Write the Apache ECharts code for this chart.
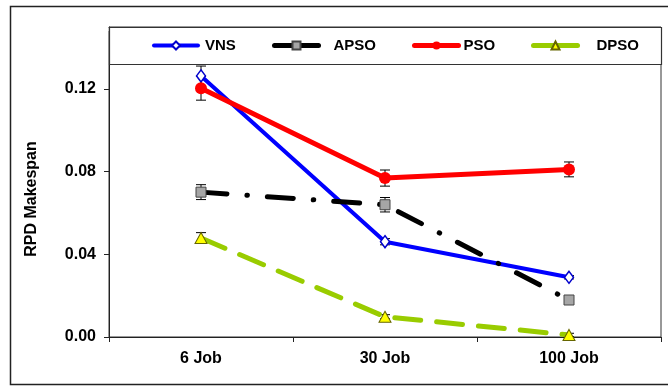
<!DOCTYPE html>
<html>
<head>
<meta charset="utf-8">
<script src="https://cdn.jsdelivr.net/npm/echarts@6/dist/echarts.min.js"></script>
<style>
  html, body { margin: 0; padding: 0; background: #fff; }
  #chart { width: 668px; height: 387px; }
</style>
</head>
<body>
<div id="chart"></div>
<script>
// Job sizes on the x axis
const categories = ['6 Job', '30 Job', '100 Job'];

// Mean RPD of makespan per algorithm
const vns  = [0.1263, 0.0461, 0.0289];
const apso = [0.0701, 0.0640, 0.0179];
const pso  = [0.1204, 0.0769, 0.0811];
const dpso = [0.0479, 0.0098, 0.0010];

// Half-widths of the error bars
const vnsErr  = [0.0048, 0.0015, 0.0008];
const apsoErr = [0.0036, 0.0035, 0.0010];
const psoErr  = [0.0058, 0.0039, 0.0036];
const dpsoErr = [0.0026, 0.0010, 0.0008];

// Y axis tick labels
const yTicks = [0, 0.04, 0.08, 0.12];

const FONT = '"Liberation Sans", Arial, sans-serif';

function errorData(values, errs) {
  return values.map((v, i) => [i, v, errs[i]]);
}

function renderErr(params, api) {
  const x = api.value(0), y = api.value(1), e = api.value(2);
  const hi = api.coord([x, y + e]);
  const lo = api.coord([x, y - e]);
  const w = 5;
  const st = { stroke: '#000', lineWidth: 1 };
  return {
    type: 'group',
    children: [
      { type: 'line', shape: { x1: hi[0], y1: hi[1], x2: lo[0], y2: lo[1] }, style: st },
      { type: 'line', shape: { x1: hi[0] - w, y1: hi[1], x2: hi[0] + w, y2: hi[1] }, style: st },
      { type: 'line', shape: { x1: lo[0] - w, y1: lo[1], x2: lo[0] + w, y2: lo[1] }, style: st }
    ]
  };
}

function errSeries(values, errs) {
  return {
    type: 'custom',
    renderItem: renderErr,
    data: errorData(values, errs),
    encode: { x: 0, y: 1 },
    z: 1,
    silent: true
  };
}

const legendText = { fontFamily: FONT, fontWeight: 'bold', fontSize: 15, color: '#000' };
function legendAt(name, left, gap, width) {
  return {
    data: [name],
    left: left,
    top: 38,
    itemWidth: 44,
    itemHeight: 10,
    itemGap: 0,
    padding: 0,
    z: 6,
    lineStyle: { type: 'solid', width: width, cap: 'round' },
    textStyle: Object.assign({ padding: [0, 0, 0, gap] }, legendText)
  };
}

const chart = echarts.init(document.getElementById('chart'));
chart.setOption({
  animation: false,
  backgroundColor: '#fff',
  graphic: [
    { type: 'rect', z: 0,
      shape: { x: 10.5, y: 6.5, width: 700, height: 378 },
      style: { fill: 'none', stroke: '#222', lineWidth: 1.5 } },
    // legend frame across the top of the plot
    { type: 'rect', z: 5,
      shape: { x: 109.5, y: 27.5, width: 552, height: 37 },
      style: { fill: '#fff', stroke: '#333', lineWidth: 1.2 } },
    // blank out the tick at the axis end
    { type: 'rect', z: 5,
      shape: { x: 100, y: 23, width: 8.5, height: 8 },
      style: { fill: '#fff', stroke: null } },
    { type: 'text', z: 5, x: 32, y: 199, rotation: Math.PI / 2,
      style: { text: 'RPD Makespan', fontFamily: FONT, fontWeight: 'bold', fontSize: 16,
               fill: '#000', align: 'center', verticalAlign: 'middle' } }
  ],
  legend: [
    legendAt('VNS', 152, 2, 4),
    legendAt('APSO', 272, 10, 5),
    legendAt('PSO', 412, 0, 5),
    legendAt('DPSO', 531, 14, 5)
  ],
  grid: {
    left: 109, right: 7, top: 27, bottom: 50,
    show: true, borderColor: '#333', borderWidth: 1, backgroundColor: 'transparent'
  },
  xAxis: {
    type: 'category',
    data: categories,
    boundaryGap: true,
    axisLine: { lineStyle: { color: '#222', width: 1 } },
    axisTick: { show: true, inside: false, length: 5, lineStyle: { color: '#222' } },
    axisLabel: { margin: 14, fontFamily: FONT, fontWeight: 'bold', fontSize: 16, color: '#000' },
    splitLine: { show: false }
  },
  yAxis: {
    type: 'value',
    min: 0, max: 0.15, interval: 0.04,
    axisLine: { show: true, lineStyle: { color: '#222', width: 1 } },
    axisTick: { show: true, inside: false, length: 5, lineStyle: { color: '#222' } },
    axisLabel: {
      margin: 13, fontFamily: FONT, fontWeight: 'bold', fontSize: 16, color: '#000',
      formatter: v => {
        const t = yTicks.find(k => Math.abs(k - v) < 1e-9);
        return t === undefined ? '' : t.toFixed(2);
      }
    },
    splitLine: { show: false }
  },
  series: [
    errSeries(vns, vnsErr),
    errSeries(apso, apsoErr),
    errSeries(pso, psoErr),
    errSeries(dpso, dpsoErr),
    {
      name: 'VNS', type: 'line', data: vns, z: 2,
      symbol: 'diamond', symbolSize: [9, 12],
      lineStyle: { color: '#0000ff', width: 4 },
      itemStyle: { color: '#fff', borderColor: '#0000cc', borderWidth: 1.5 },
      color: '#0000ff'
    },
    {
      name: 'APSO', type: 'line', data: apso, z: 2,
      symbol: 'rect', symbolSize: 10,
      lineStyle: { color: '#000', width: 5, type: [26, 20, 0.5, 20], cap: 'round' },
      itemStyle: { color: '#a6a6a6', borderColor: '#444', borderWidth: 1 },
      color: '#000'
    },
    {
      name: 'PSO', type: 'line', data: pso, z: 2,
      symbol: 'circle', symbolSize: 12,
      lineStyle: { color: '#ff0000', width: 5 },
      itemStyle: { color: '#ff0000', borderColor: '#ff0000', borderWidth: 0 },
      color: '#ff0000'
    },
    {
      name: 'DPSO', type: 'line', data: dpso, z: 2,
      symbol: 'triangle', symbolSize: [12, 11],
      lineStyle: { color: '#99cc00', width: 5, type: [26, 16], cap: 'round' },
      itemStyle: { color: '#ffff00', borderColor: '#666600', borderWidth: 1 },
      color: '#99cc00'
    }
  ]
});
</script>
</body>
</html>
